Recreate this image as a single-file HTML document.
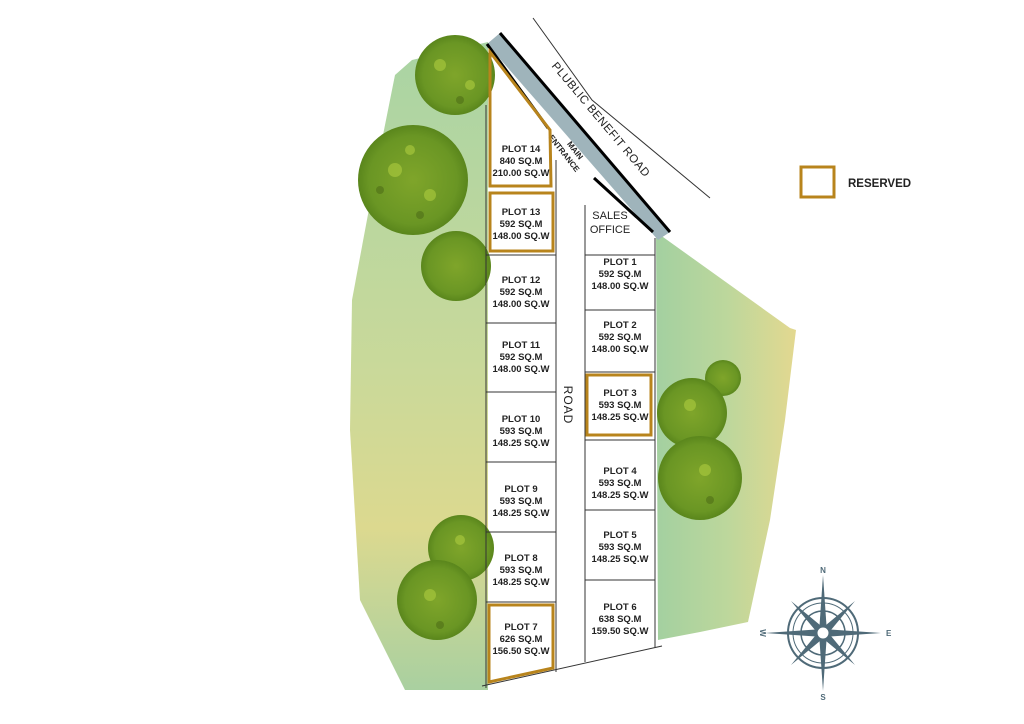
<!DOCTYPE html>
<html><head><meta charset="utf-8"><style>
html,body{margin:0;padding:0;background:#fff;width:1024px;height:724px;overflow:hidden}
svg{display:block}
text{font-family:"Liberation Sans",sans-serif;fill:#222}
.p{font-size:9.5px;font-weight:bold;text-anchor:middle}
</style></head><body>
<svg width="1024" height="724" viewBox="0 0 1024 724">
<defs>
<linearGradient id="gl" x1="0" y1="0" x2="0" y2="1">
<stop offset="0" stop-color="#a9d4a4"/><stop offset="0.5" stop-color="#c9d99a"/><stop offset="0.75" stop-color="#dcd98f"/><stop offset="1" stop-color="#a9d0a0"/>
</linearGradient>
<linearGradient id="gr" x1="0" y1="0" x2="1" y2="0">
<stop offset="0" stop-color="#a3d0a0"/><stop offset="0.5" stop-color="#bcd79c"/><stop offset="1" stop-color="#e3d890"/>
</linearGradient>
<radialGradient id="tr"><stop offset="0" stop-color="#7fa52a"/><stop offset="0.8" stop-color="#6a9624"/><stop offset="1" stop-color="#5a861c"/></radialGradient>
</defs>
<polygon points="412,60 488,42 488,690 405,690 360,600 350,430 352,300 380,150 395,75" fill="url(#gl)"/>
<polygon points="656,232 790,328 796,330 785,420 770,520 748,622 700,632 658,640" fill="url(#gr)"/>
<g fill="url(#tr)">
<circle cx="455" cy="75" r="40"/>
<circle cx="413" cy="180" r="55"/>
<circle cx="456" cy="266" r="35"/>
<circle cx="723" cy="378" r="18"/>
<circle cx="692" cy="413" r="35"/>
<circle cx="700" cy="478" r="42"/>
<circle cx="461" cy="548" r="33"/>
<circle cx="437" cy="600" r="40"/>
</g>
<g fill="#a6c63c" opacity="0.7">
<circle cx="440" cy="65" r="6"/><circle cx="470" cy="85" r="5"/><circle cx="395" cy="170" r="7"/><circle cx="430" cy="195" r="6"/><circle cx="410" cy="150" r="5"/><circle cx="690" cy="405" r="6"/><circle cx="705" cy="470" r="6"/><circle cx="430" cy="595" r="6"/><circle cx="460" cy="540" r="5"/>
</g>
<g fill="#4e6e18" opacity="0.6">
<circle cx="460" cy="100" r="4"/><circle cx="420" cy="215" r="4"/><circle cx="380" cy="190" r="4"/><circle cx="710" cy="500" r="4"/><circle cx="440" cy="625" r="4"/>
</g>
<polyline points="533,18 592,100 710,198" fill="none" stroke="#333" stroke-width="1"/>
<text transform="translate(598,122) rotate(50)" font-size="11.5" text-anchor="middle" letter-spacing="0.5">PLUBLIC BENEFIT ROAD</text>
<polygon points="487,44 500,33 670,232 658,240" fill="#9fb4bb"/>
<line x1="500" y1="33" x2="670" y2="232" stroke="#000" stroke-width="3"/>
<line x1="487" y1="44" x2="548" y2="128" stroke="#000" stroke-width="3"/>
<line x1="594" y1="178" x2="653" y2="232" stroke="#000" stroke-width="3"/>
<text transform="translate(573,152) rotate(52)" font-size="8" font-weight="bold" text-anchor="middle">MAIN</text>
<text transform="translate(562,155) rotate(52)" font-size="8" font-weight="bold" text-anchor="middle">ENTRANCE</text>
<g stroke="#333" stroke-width="1" fill="none">
<line x1="486" y1="105" x2="486" y2="688"/>
<line x1="556" y1="160" x2="556" y2="672"/>
<line x1="585" y1="205" x2="585" y2="662"/>
<line x1="655" y1="238" x2="655" y2="648"/>
<line x1="486" y1="255" x2="556" y2="255"/>
<line x1="486" y1="323" x2="556" y2="323"/>
<line x1="486" y1="392" x2="556" y2="392"/>
<line x1="486" y1="462" x2="556" y2="462"/>
<line x1="486" y1="532" x2="556" y2="532"/>
<line x1="486" y1="602" x2="556" y2="602"/>
<line x1="585" y1="255" x2="655" y2="255"/>
<line x1="585" y1="310" x2="655" y2="310"/>
<line x1="585" y1="372" x2="655" y2="372"/>
<line x1="585" y1="440" x2="655" y2="440"/>
<line x1="585" y1="510" x2="655" y2="510"/>
<line x1="585" y1="580" x2="655" y2="580"/>
<line x1="482" y1="686" x2="662" y2="646"/>
</g>
<g stroke="#b8841c" stroke-width="3" fill="none">
<polygon points="490,52 550,130 551,186 490,186"/>
<rect x="490" y="193" width="63" height="58"/>
<rect x="587" y="375" width="64" height="60"/>
<polygon points="489,605 553,605 553,668 489,682"/>
<rect x="801" y="167" width="33" height="30"/>
</g>
<text x="848" y="187" font-size="11.5" font-weight="bold">RESERVED</text>
<g>
<text class="p" x="521" y="152">PLOT 14</text><text class="p" x="521" y="164">840 SQ.M</text><text class="p" x="521" y="176">210.00 SQ.W</text>
<text class="p" x="521" y="215">PLOT 13</text><text class="p" x="521" y="227">592 SQ.M</text><text class="p" x="521" y="239">148.00 SQ.W</text>
<text class="p" x="521" y="283">PLOT 12</text><text class="p" x="521" y="295">592 SQ.M</text><text class="p" x="521" y="307">148.00 SQ.W</text>
<text class="p" x="521" y="348">PLOT 11</text><text class="p" x="521" y="360">592 SQ.M</text><text class="p" x="521" y="372">148.00 SQ.W</text>
<text class="p" x="521" y="422">PLOT 10</text><text class="p" x="521" y="434">593 SQ.M</text><text class="p" x="521" y="446">148.25 SQ.W</text>
<text class="p" x="521" y="492">PLOT 9</text><text class="p" x="521" y="504">593 SQ.M</text><text class="p" x="521" y="516">148.25 SQ.W</text>
<text class="p" x="521" y="561">PLOT 8</text><text class="p" x="521" y="573">593 SQ.M</text><text class="p" x="521" y="585">148.25 SQ.W</text>
<text class="p" x="521" y="630">PLOT 7</text><text class="p" x="521" y="642">626 SQ.M</text><text class="p" x="521" y="654">156.50 SQ.W</text>
<text class="p" x="620" y="265">PLOT 1</text><text class="p" x="620" y="277">592 SQ.M</text><text class="p" x="620" y="289">148.00 SQ.W</text>
<text class="p" x="620" y="328">PLOT 2</text><text class="p" x="620" y="340">592 SQ.M</text><text class="p" x="620" y="352">148.00 SQ.W</text>
<text class="p" x="620" y="396">PLOT 3</text><text class="p" x="620" y="408">593 SQ.M</text><text class="p" x="620" y="420">148.25 SQ.W</text>
<text class="p" x="620" y="474">PLOT 4</text><text class="p" x="620" y="486">593 SQ.M</text><text class="p" x="620" y="498">148.25 SQ.W</text>
<text class="p" x="620" y="538">PLOT 5</text><text class="p" x="620" y="550">593 SQ.M</text><text class="p" x="620" y="562">148.25 SQ.W</text>
<text class="p" x="620" y="610">PLOT 6</text><text class="p" x="620" y="622">638 SQ.M</text><text class="p" x="620" y="634">159.50 SQ.W</text>
</g>
<text x="610" y="219" font-size="11" text-anchor="middle">SALES</text>
<text x="610" y="233" font-size="11" text-anchor="middle">OFFICE</text>
<text transform="translate(564,405) rotate(90)" font-size="12" text-anchor="middle" letter-spacing="1">ROAD</text>
<g transform="translate(823,633)" fill="#4f6a78" stroke="#4f6a78">
<circle r="35" fill="none" stroke-width="2"/>
<circle r="30" fill="none" stroke-width="1"/>
<circle r="22" fill="none" stroke-width="1.5"/>
<g stroke="none">
<polygon points="0,-58 4,0 0,58 -4,0"/>
<polygon points="-58,0 0,4 58,0 0,-4"/>
<polygon points="-32,-32 3,-3 32,32 -3,3"/>
<polygon points="32,-32 3,3 -32,32 -3,-3"/>
</g>
<circle r="7" fill="#fff" stroke-width="3"/>
<g stroke="none" font-family="Liberation Serif,serif" font-size="8" font-weight="bold">
<text x="0" y="-60" text-anchor="middle" style="fill:#4f6a78">N</text>
<text x="0" y="67" text-anchor="middle" style="fill:#4f6a78">S</text>
<text x="63" y="3" style="fill:#4f6a78">E</text>
<text transform="translate(-63,0) rotate(90)" text-anchor="middle" style="fill:#4f6a78">W</text>
</g>
</g>
</svg>
</body></html>
